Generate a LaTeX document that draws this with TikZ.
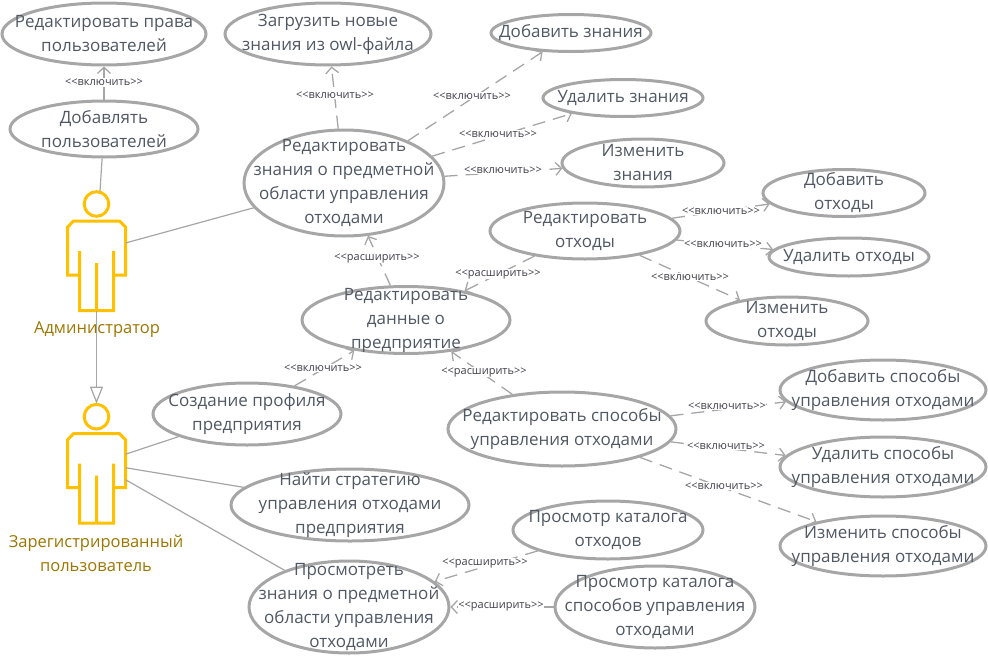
\documentclass[tikz,border=0pt]{standalone}
\usepackage{fontspec}
\setmainfont{Open Sans}
\usetikzlibrary{arrows.meta, shapes.geometric}
\definecolor{line_gray}{RGB}{166,166,166}
\definecolor{case_text}{RGB}{80,88,100}
\definecolor{stereo_text}{RGB}{64,64,72}
\definecolor{actor_gold}{RGB}{255,192,0}
\definecolor{actor_text}{RGB}{156,118,0}
\newcommand{\incl}{<{}<включить>{}>}
\newcommand{\extn}{<{}<расширить>{}>}
\tikzset{
  actorfig/.pic={
    \draw[actor_gold, line width=3pt] (0,0) circle (12.3);
    \draw[actor_gold, line width=3pt, line join=miter] (-17,47) -- (-17,71) -- (-28.8,71) -- (-28.8,23) -- (-23,17) -- (23,17) -- (29,23) -- (29,71) -- (17,71) -- (17,47)
      (-17,71) -- (-17,106.5) -- (17,106.5) -- (17,71) (0,59) -- (0,106.5);
    \coordinate (-top) at (3.5,-13);
    \coordinate (-head) at (0,-13);
    \coordinate (-feet) at (0,106.5);
    \coordinate (-side) at (29,39);
    \coordinate (-sidea) at (29,37.5);
    \coordinate (-sideb) at (29,51);
    \coordinate (-sidec) at (29,63);
  }
}
\begin{document}
\begin{tikzpicture}[x=1pt, y=-1pt, >={Straight Barb[length=6pt, width=13pt]},
  case/.style={ellipse, draw=line_gray, line width=3pt, inner xsep=-50pt, inner ysep=-20pt, align=center, text=case_text, font=\fontsize{17}{24}\selectfont},
  stereo/.style={fill=white, inner sep=0.5pt, text=stereo_text, font=\fontsize{11}{12}\selectfont},
  actorname/.style={align=center, text=actor_text, font=\fontsize{16.5}{24}\selectfont},
  assoc/.style={line_gray, line width=1.2pt},
  dep/.style={->, line_gray, line width=1.3pt, dash pattern=on 13pt off 8pt}]
  \useasboundingbox (0,0) rectangle (988,664);
  % actors
  \pic (admin) at (96.5,204) {actorfig};
  \pic (user) at (96.5,416.7) {actorfig};
  \node[actorname] (adminname) at (97,330) {Администратор};
  \node[actorname] (username) at (96,553) {Зарегистрированный\\пользователь};
  % use cases
  \node[case, minimum width=204, minimum height=62] (rights) at (104,34) {Редактировать права\\пользователей};
  \node[case, minimum width=206, minimum height=62] (owl) at (328,34) {Загрузить новые\\знания из owl-файла};
  \node[case, minimum width=160, minimum height=37] (addkn) at (571,33) {Добавить знания};
  \node[case, minimum width=160, minimum height=37] (delkn) at (623,98) {Удалить знания};
  \node[case, minimum width=162, minimum height=48] (chkn) at (643,163) {Изменить\\знания};
  \node[case, minimum width=188, minimum height=56] (adduser) at (104,129) {Добавлять\\пользователей};
  \node[case, minimum width=200, minimum height=106] (editkn) at (344,183) {Редактировать\\знания о предметной\\области управления\\отходами};
  \node[case, minimum width=190, minimum height=56] (editwaste) at (585,231) {Редактировать\\отходы};
  \node[case, minimum width=162, minimum height=47] (addwaste) at (844,193) {Добавить\\отходы};
  \node[case, minimum width=160, minimum height=38] (delwaste) at (849,257) {Удалить отходы};
  \node[case, minimum width=162, minimum height=48] (chwaste) at (787,321) {Изменить\\отходы};
  \node[case, minimum width=208, minimum height=67] (editfirm) at (406,320) {Редактировать\\данные о\\предприятие};
  \node[case, minimum width=188, minimum height=62] (profile) at (247,414) {Создание профиля\\предприятия};
  \node[case, minimum width=228, minimum height=74] (editways) at (562,429) {Редактировать способы\\управления отходами};
  \node[case, minimum width=206, minimum height=60] (addways) at (883,390) {Добавить способы\\управления отходами};
  \node[case, minimum width=206, minimum height=60] (delways) at (883,467) {Удалить способы\\управления отходами};
  \node[case, minimum width=206, minimum height=60] (chways) at (883,546) {Изменить способы\\управления отходами};
  \node[case, minimum width=238, minimum height=72] (strategy) at (350,505) {Найти стратегию\\управления отходами\\предприятия};
  \node[case, minimum width=190, minimum height=58] (catwaste) at (608,530) {Просмотр каталога\\отходов};
  \node[case, minimum width=200, minimum height=82] (catways) at (655,607) {Просмотр каталога\\способов управления\\отходами};
  \node[case, minimum width=200, minimum height=92] (viewkn) at (349,607) {Просмотреть\\знания о предметной\\области управления\\отходами};
  % associations
  \draw[assoc] (adduser) -- (admin-top);
  \draw[assoc] (admin-side) -- (editkn);
  \draw[assoc] (user-sidea) -- (profile);
  \draw[assoc] (user-sideb) -- (strategy);
  \draw[assoc] (user-sidec) -- (viewkn);
  \draw[assoc, -{Triangle[open, length=17pt, width=13pt, fill=white]}] (admin-feet) -- (user-head);
  % dependencies
  \draw[dep] (adduser) -- (rights);
  \draw[dep] (editkn) -- (owl);
  \draw[dep] (editkn) -- (addkn);
  \draw[dep] (editkn) -- (delkn);
  \draw[dep] (editkn) -- (chkn);
  \draw[dep] (editfirm) -- (editkn);
  \draw[dep] (editwaste) -- (addwaste);
  \draw[dep] (editwaste) -- (delwaste);
  \draw[dep] (editwaste) -- (chwaste);
  \draw[dep] (editwaste) -- (editfirm);
  \draw[dep] (profile) -- (editfirm);
  \draw[dep] (editways) -- (editfirm);
  \draw[dep] (editways) -- (addways);
  \draw[dep] (editways) -- (delways);
  \draw[dep] (editways) -- (chways);
  \draw[dep] (catwaste) -- (viewkn);
  \draw[dep] (catways) -- (viewkn);
  % stereotypes
  \node[stereo] (s1) at (104,82) {\incl};
  \node[stereo] (s2) at (335,95) {\incl};
  \node[stereo] (s3) at (472,96) {\incl};
  \node[stereo] (s4) at (498,134) {\incl};
  \node[stereo] (s5) at (503,170) {\incl};
  \node[stereo] (s6) at (377,258) {\extn};
  \node[stereo] (s7) at (721,211) {\incl};
  \node[stereo] (s8) at (723,244) {\incl};
  \node[stereo] (s9) at (690,277) {\incl};
  \node[stereo] (s10) at (498,274) {\extn};
  \node[stereo] (s11) at (323,368) {\incl};
  \node[stereo] (s12) at (484,372) {\extn};
  \node[stereo] (s13) at (727,406) {\incl};
  \node[stereo] (s14) at (726,446) {\incl};
  \node[stereo] (s15) at (724,486) {\incl};
  \node[stereo] (s16) at (485,563) {\extn};
  \node[stereo] (s17) at (501,606) {\extn};
\end{tikzpicture}
\end{document}
